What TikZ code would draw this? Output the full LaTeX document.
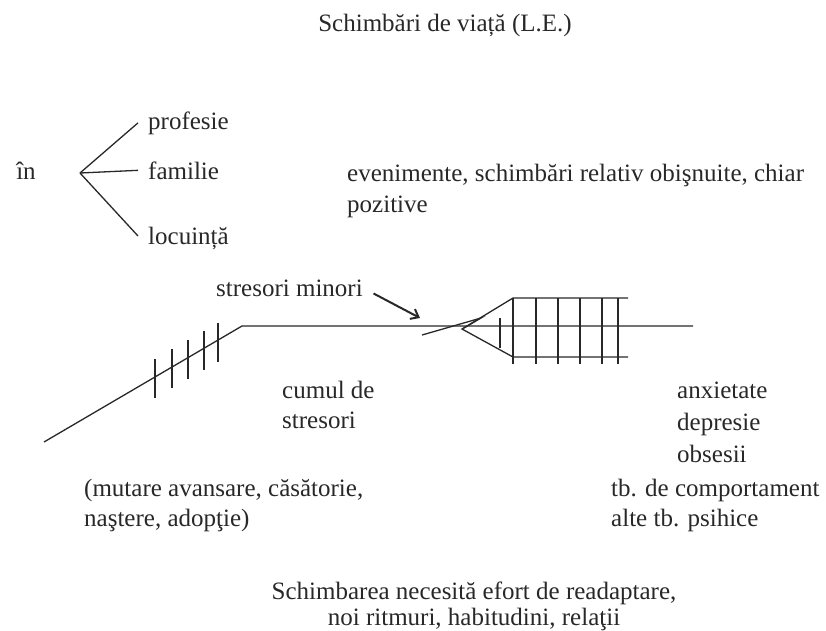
\documentclass[tikz,border=0pt]{standalone}
\usepackage{fontspec}
\setmainfont{Liberation Serif}
\usepackage{xcolor}
\usepackage{tikz}
\usetikzlibrary{arrows.meta, positioning, calc}
\definecolor{inkgray}{RGB}{40, 40, 40}

\begin{document}
\begin{tikzpicture}[x=1pt, y=-1pt,
    txt/.style={inner sep=0pt, text=inkgray, font=\fontsize{25}{31}\selectfont},
    blk/.style={txt, align=left, anchor=north west},
    ln/.style={draw=inkgray, line width=1.3pt}]
    \useasboundingbox (0,0) rectangle (826,630);

    % titlu
    \node[txt, anchor=base] (title) at (445,31) {Schimbări de viață (L.E.)};

    % in profesie / familie / locuinta
    \node[txt, anchor=base] (in) at (26,179) {în};
    \coordinate (fork) at (80,173);
    \node[txt, anchor=base west] (prof) at (148,129) {profesie};
    \node[txt, anchor=base west] (fam) at (148,179) {familie};
    \node[txt, anchor=base west] (loc) at (148,244) {locuință};
    \draw[ln] (fork) -- ([xshift=-10pt]prof.west);
    \draw[ln] (fork) -- ([xshift=-10pt]fam.west);
    \draw[ln] (fork) -- ([xshift=-10pt,yshift=2pt]loc.west);

    \node[blk] (even) at (347,163.5) {evenimente, schimbări relativ obişnuite, chiar\\pozitive};

    % linia principala
    \coordinate (start) at (44,442);
    \coordinate (knee) at (242,326);
    \coordinate (stop) at (693,326);
    \draw[ln] (start) -- (knee) -- (stop);
    \foreach \x/\y in {155/377, 172/367, 188/358, 204/349, 218/341}
        \draw[ln] (\x,\y-18) -- (\x,\y+21);

    \node[txt, anchor=base west] (minor) at (216,296) {stresori minori};
    \coordinate (hit) at (420,318);
    \draw[ln, line width=2pt, shorten <=12pt, -{Straight Barb[length=7pt, width=11pt]}] (minor.east) -- (hit);

    % conul cu grila
    \coordinate (apex) at (462,329);
    \coordinate (ctop) at (513,298);
    \coordinate (cbot) at (513,357);
    \draw[ln] (422,335) -- (481,318) -- (464,328);
    \draw[ln] (628,298) -- (ctop) -- (apex) -- (cbot) -- (628,357);
    \draw[ln] (500,318) -- (500,348);
    \foreach \x in {513,536,558,580,602,618}
        \draw[ln] (\x,298) -- (\x,364);

    \node[blk, font=\fontsize{25}{30}\selectfont] (cumul) at (282,380.5) {cumul de\\stresori};
    \node[blk, font=\fontsize{25}{32}\selectfont] (tulb) at (677,381.5) {anxietate\\depresie\\obsesii};
    \node[blk, font=\fontsize{25}{30}\selectfont] (alte) at (611,478.5) {tb. de comportament\\alte tb. psihice};
    \node[blk, font=\fontsize{25}{30}\selectfont] (ex) at (84,478.5) {(mutare avansare, căsătorie,\\naştere, adopţie)};

    \node[txt, align=center, anchor=north, font=\fontsize{25}{26}\selectfont] (efort) at (474,581.5)
        {Schimbarea necesită efort de readaptare,\\noi ritmuri, habitudini, relaţii};
\end{tikzpicture}
\end{document}
